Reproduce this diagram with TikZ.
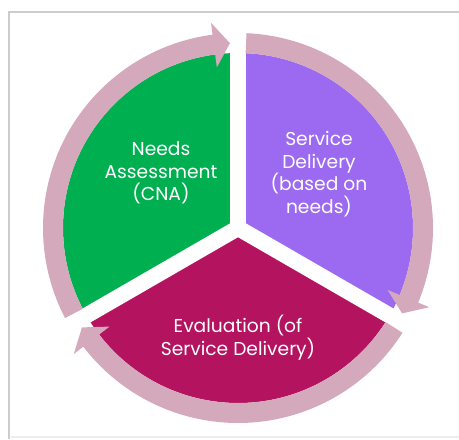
\documentclass[tikz,border=0pt]{standalone}
\usepackage{fontspec}
\setmainfont{Poppins}
\usetikzlibrary{calc}
\definecolor{needsgreen}{HTML}{00B050}
\definecolor{deliverypurple}{HTML}{9C6AF0}
\definecolor{evalmaroon}{HTML}{B3135F}
\definecolor{ringpink}{HTML}{D5A9BC}
\tikzset{
  sectortext/.style={text=white, align=center, font=\fontsize{14}{17}\selectfont},
  gapline/.style={white, line width=12pt},
  framegray/.style={gray!40, line width=2.2pt}
}
% ring arrow: start angle, head base angle, tip angle
\newcommand{\ringarrow}[3]{%
  \fill[ringpink] ($(C)+(#1:195)$) arc[start angle=#1, end angle=#2, radius=195]
    -- ($(C)+(#2:207)$) -- ($(C)+(#3:185)$) -- ($(C)+(#2:162)$)
    -- ($(C)+(#2:175)$) arc[start angle=#2, end angle=#1, radius=175] -- cycle;}
\begin{document}
\begin{tikzpicture}[x=0.75pt,y=0.75pt]
    \useasboundingbox (0,0) rectangle (459,439);
    %%%%%%%%%% Frame %%%%%%%%%%
    \draw[framegray] (9,0) -- (9,427) -- (459,427);
    \draw[gray!15, line width=1pt] (11,2) -- (459,2);
    \coordinate (C) at (238,211);

    %%%%%%%%%% Sectors %%%%%%%%%%
    \fill[needsgreen] (C) -- ($(C)+(90:175)$) arc[start angle=90, end angle=210, radius=175] -- cycle;
    \fill[deliverypurple] (C) -- ($(C)+(-30:175)$) arc[start angle=-30, end angle=90, radius=175] -- cycle;
    \fill[evalmaroon] (C) -- ($(C)+(210:175)$) arc[start angle=210, end angle=330, radius=175] -- cycle;
    \draw[gapline] (C) -- ($(C)+(90:180)$);
    \draw[gapline] (C) -- ($(C)+(210:180)$);
    \draw[gapline] (C) -- ($(C)+(330:180)$);

    %%%%%%%%% Arrows %%%%%%%%%
    \ringarrow{207.5}{97.5}{92.5}
    \ringarrow{87.5}{-22.5}{-27.5}
    \ringarrow{-32.5}{-142.5}{-147.5}

    %%%%%%%%% Labels %%%%%%%%%
    \node[sectortext] (needs) at (161,266) {Needs\\Assessment\\(CNA)};
    \node[sectortext] (delivery) at (319,265) {Service\\Delivery\\(based on\\needs)};
    \node[sectortext] (evaluation) at (238,101) {Evaluation (of\\Service Delivery)};
\end{tikzpicture}
\end{document}
